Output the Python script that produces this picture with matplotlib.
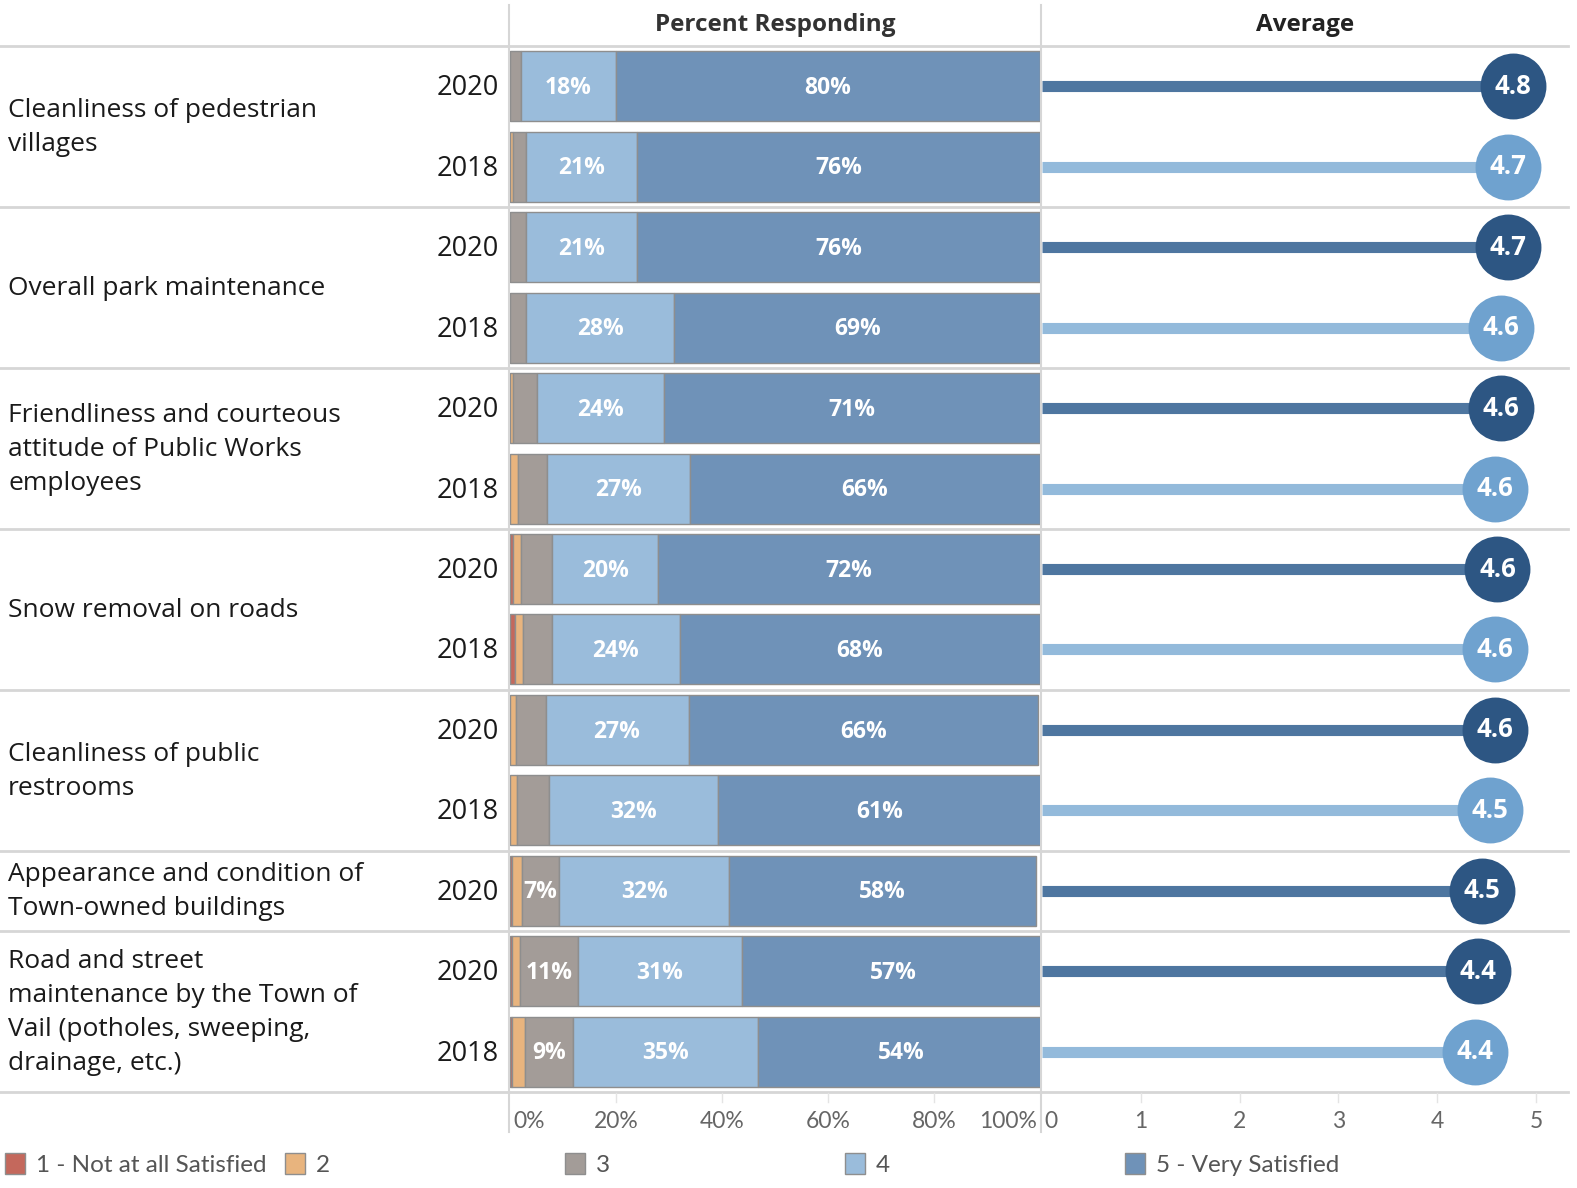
import numpy as np
import matplotlib.pyplot as plt
from matplotlib.patches import Rectangle

plt.rcParams['font.family'] = ['Open Sans', 'DejaVu Sans']

# Datos
categories = ['Cleanliness of pedestrian\nvillages',
              'Overall park maintenance',
              'Friendliness and courteous\nattitude of Public Works\nemployees',
              'Snow removal on roads',
              'Cleanliness of public\nrestrooms',
              'Appearance and condition of\nTown-owned buildings',
              'Road and street\nmaintenance by the Town of\nVail (potholes, sweeping,\ndrainage, etc.)']
group_rows = [2, 2, 2, 2, 2, 1, 2]
years = ['2020', '2018', '2020', '2018', '2020', '2018', '2020', '2018',
         '2020', '2018', '2020', '2020', '2018']

p1 = [0, 0, 0, 0, 0, 0, 0.5, 1.0, 0, 0, 0.3, 0.3, 0.3]
p2 = [0, 0.5, 0, 0, 0.5, 1.5, 1.5, 1.5, 1.2, 1.3, 2.0, 1.5, 2.5]
p3 = [2, 2.5, 3, 3, 4.5, 5.5, 6, 5.5, 5.5, 6, 7, 11, 9]
p4 = [18, 21, 21, 28, 24, 27, 20, 24, 27, 32, 32, 31, 35]
p5 = [80, 76, 76, 69, 71, 66, 72, 68, 66, 61, 58, 57, 54]

avg = [4.77, 4.72, 4.72, 4.65, 4.65, 4.58, 4.61, 4.58, 4.58, 4.53, 4.45, 4.41, 4.38]
avg_label = ['4.8', '4.7', '4.7', '4.6', '4.6', '4.6', '4.6', '4.6', '4.6', '4.5', '4.5', '4.4', '4.4']

seg_names = ['1 - Not at all Satisfied', '2', '3', '4', '5 - Very Satisfied']
seg_colors = ['#c4685c', '#e8b47e', '#a39c98', '#9abcdb', '#6f92b8']

W, H = 1577, 1188
fig = plt.figure(figsize=(W / 100, H / 100), dpi=100)


def px_axes(x0, y0, x1, y1):
    return fig.add_axes([x0 / W, 1 - y1 / H, (x1 - x0) / W, (y1 - y0) / H])


# fondo en pixeles
bg = px_axes(0, 0, W, H)
bg.set_xlim(0, W)
bg.set_ylim(H, 0)
bg.axis('off')

top, bottom = 46, 1092
row_h = (bottom - top) / len(years)
grid_c = '#d6d6d6'

# separadores de grupo
bounds = [top] + list(top + row_h * np.cumsum(group_rows))
for yb in bounds:
    bg.plot([0, 1568], [yb, yb], color=grid_c, lw=2, zorder=0)
bg.plot([509, 509], [5, 1132], color=grid_c, lw=1.5)
bg.plot([1041, 1041], [5, 1132], color=grid_c, lw=1.5)

# textos de categoria
start = 0
for cat, n in zip(categories, group_rows):
    yc = top + row_h * (start + n / 2) + 1
    bg.text(8, yc, cat, fontsize=19, color='#1a1a1a', va='center', ha='left',
            linespacing=1.46)
    start += n
for i, yr in enumerate(years):
    bg.text(499, top + row_h * (i + 0.5) + 2, yr, fontsize=19.5, color='#1a1a1a',
            va='center', ha='right')

bg.text(775, 25, 'Percent Responding', fontsize=17.5, fontweight='bold',
        color='#333333', ha='center', va='center')
bg.text(1305, 25, 'Average', fontsize=17.5, fontweight='bold',
        color='#222222', ha='center', va='center')

# barras apiladas
ax = px_axes(510, top, 1040, bottom)
ax.set_xlim(0, 100)
ax.set_ylim(len(years) - 0.5, -0.5)
y = np.arange(len(years))
left = np.zeros(len(years))
for vals, col in zip([p1, p2, p3, p4, p5], seg_colors):
    vals = np.array(vals, dtype=float)
    ax.barh(y, vals, left=left, height=0.87, color=col, edgecolor='#8e8e8e',
            linewidth=1)
    for yi, l, v in zip(y, left, vals):
        if v >= 7:
            ax.text(l + v / 2, yi + 0.02, f'{round(v)}%', ha='center', va='center',
                    color='white', fontsize=16.5, fontweight='bold')
    left += vals
ax.axis('off')

# promedio
ax2 = px_axes(1042, top, 1568, bottom)
ax2.set_xlim(0, 5 * 526 / 494)
ax2.set_ylim(len(years) - 0.5, -0.5)
for i, (v, lab, yr) in enumerate(zip(avg, avg_label, years)):
    if yr == '2020':
        lc, cc = '#4e76a0', '#2d5683'
    else:
        lc, cc = '#93badb', '#6fa2cf'
    ax2.plot([0, v], [i, i], color=lc, lw=8, solid_capstyle='butt', zorder=1)
    ax2.scatter([v], [i], s=2250, color=cc, zorder=2, linewidths=0)
    ax2.text(v, i, lab, ha='center', va='center', color='white',
             fontsize=18.5, fontweight='bold', zorder=3)
ax2.axis('off')

# ejes inferiores
tick_c = '#666666'
tick_font = ['Lato', 'DejaVu Sans']
for k, t in enumerate([0, 20, 40, 60, 80, 100]):
    xp = 510 + t / 100 * 530
    ha = 'left' if t == 0 else ('right' if t == 100 else 'center')
    xt = xp + 3 if t == 0 else (xp - 3 if t == 100 else xp)
    bg.text(xt, 1122, f'{t}%', fontsize=16.5, color=tick_c, ha=ha, va='center',
            family=tick_font)
    if 0 < t < 100:
        bg.plot([xp, xp], [1093, 1102], color='#e4e4e4', lw=1)
for t in range(6):
    xp = 1042 + t / 5 * 494
    ha = 'left' if t == 0 else 'center'
    xt = xp + 2 if t == 0 else xp
    bg.text(xt, 1122, str(t), fontsize=16.5, color=tick_c, ha=ha, va='center',
            family=tick_font)
    if t > 0:
        bg.plot([xp, xp], [1093, 1102], color='#e4e4e4', lw=1)

# leyenda
for k, (name, col) in enumerate(zip(seg_names, seg_colors)):
    x0 = 5 + 280 * k
    bg.add_patch(Rectangle((x0, 1153), 20, 21, facecolor=col,
                           edgecolor='#8e8e8e', lw=1))
    bg.text(x0 + 31, 1165, name, fontsize=17.5, color='#555555',
            ha='left', va='center', family=tick_font)

fig.savefig('out.png', dpi=100)
